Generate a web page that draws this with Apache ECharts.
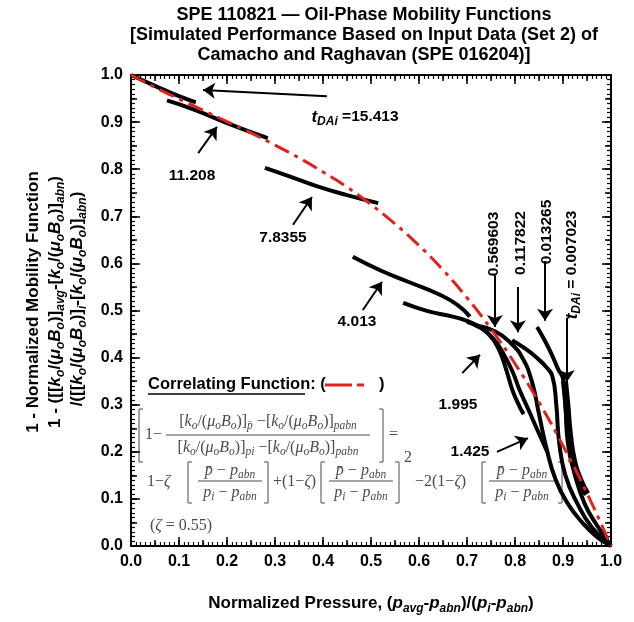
<!DOCTYPE html>
<html>
<head>
<meta charset="utf-8">
<script src="https://cdn.jsdelivr.net/npm/echarts@6/dist/echarts.min.js"></script>
<style>
html, body { margin: 0; padding: 0; background: #fff; }
#main { width: 634px; height: 622px; }
</style>
</head>
<body>
<div id="main"></div>
<script>
// correlating function
var corrX = [0, 0.05, 0.1, 0.15, 0.2, 0.25, 0.3, 0.35, 0.4, 0.45, 0.5, 0.55, 0.6, 0.65, 0.7, 0.75, 0.8, 0.85, 0.9, 0.95, 1.0];
var corrY = [1.0, 0.974, 0.949, 0.925, 0.901, 0.877, 0.851, 0.824, 0.794, 0.762, 0.725, 0.684, 0.638, 0.586, 0.527, 0.461, 0.387, 0.305, 0.213, 0.112, 0.0];

// simulated curves, one per t_DAi
var sim15413 = [[0, 1.0], [0.05, 0.977], [0.1, 0.955], [0.135, 0.942]];
var sim11208 = [[0.075, 0.946], [0.13, 0.927], [0.2, 0.898], [0.285, 0.866]];
var sim78355 = [[0.279, 0.803], [0.33, 0.785], [0.39, 0.763], [0.45, 0.745], [0.515, 0.728]];
var sim4013 = [[0.462, 0.614], [0.52, 0.585], [0.58, 0.56], [0.64, 0.535], [0.68, 0.512], [0.706, 0.487]];
var sim1995 = [[0.567, 0.516], [0.62, 0.498], [0.67, 0.487], [0.7, 0.478], [0.725, 0.466], [0.745, 0.45], [0.765, 0.42], [0.78, 0.38], [0.795, 0.33], [0.81, 0.295], [0.818, 0.28]];
var sim1425 = [[0.7, 0.476], [0.73, 0.462], [0.755, 0.44], [0.775, 0.41], [0.795, 0.37], [0.81, 0.33], [0.83, 0.285], [0.845, 0.25], [0.867, 0.2]];
var sim0569603 = [[0.72, 0.468], [0.76, 0.455], [0.79, 0.432], [0.815, 0.4], [0.835, 0.35], [0.85, 0.28], [0.865, 0.21], [0.885, 0.14], [0.91, 0.09], [0.94, 0.05], [0.97, 0.02], [1.0, 0.0]];
var sim0117822 = [[0.794, 0.437], [0.82, 0.42], [0.845, 0.4], [0.865, 0.38], [0.878, 0.36], [0.886, 0.3], [0.892, 0.22], [0.905, 0.15], [0.93, 0.09], [0.96, 0.04], [1.0, 0.0]];
var sim0013265 = [[0.846, 0.465], [0.86, 0.44], [0.875, 0.41], [0.89, 0.375], [0.9, 0.355], [0.905, 0.3], [0.91, 0.22], [0.925, 0.15], [0.945, 0.09], [0.97, 0.045], [1.0, 0.0]];
var sim0007023 = [[0.903, 0.35], [0.908, 0.3], [0.913, 0.24], [0.922, 0.18], [0.935, 0.14], [0.95, 0.11]];

// arrows pointing at the curves: [from, to]
var arrows = [
  [[0.408, 0.955], [0.15, 0.968]],
  [[0.14, 0.834], [0.179, 0.89]],
  [[0.3375, 0.682], [0.377, 0.741]],
  [[0.483, 0.501], [0.523, 0.561]],
  [[0.69, 0.367], [0.727, 0.406]],
  [[0.7625, 0.2], [0.827, 0.229]],
  [[0.758, 0.575], [0.758, 0.465]],
  [[0.806, 0.55], [0.806, 0.454]],
  [[0.8625, 0.605], [0.8625, 0.478]],
  [[0.908, 0.485], [0.908, 0.348]]
];

var tickLabels = ['0.0', '0.1', '0.2', '0.3', '0.4', '0.5', '0.6', '0.7', '0.8', '0.9', '1.0'];

var myChart = echarts.init(document.getElementById('main'));

var sans = 'Liberation Sans, Arial, sans-serif';
var serif = 'Liberation Serif, DejaVu Serif, serif';
var grey = '#4a4a4a';

function fmtTick(v) {
  return tickLabels[Math.round(v * 10)] || '';
}

// one axis with major + minor ticks, one with the 0.05 ticks
function mainAxis(pos, labels) {
  return {
    type: 'value', position: pos, min: 0, max: 1, interval: 0.1,
    axisLine: { show: true, onZero: false, lineStyle: { color: '#000', width: 2 } },
    axisTick: { show: true, inside: true, length: 9, lineStyle: { color: '#000', width: 1.5 } },
    minorTick: { show: true, splitNumber: 10, length: 4, lineStyle: { color: '#000', width: 1.2 } },
    axisLabel: { show: labels, color: '#000', fontFamily: sans, fontWeight: 'bold', fontSize: 16, margin: 8, formatter: fmtTick },
    splitLine: { show: false }
  };
}
function midAxis(pos) {
  return {
    type: 'value', position: pos, min: 0, max: 1, interval: 0.05,
    axisLine: { show: false, onZero: false },
    axisTick: { show: true, inside: true, length: 6, lineStyle: { color: '#000', width: 1.5 } },
    axisLabel: { show: false },
    splitLine: { show: false }
  };
}

function simSeries(data) {
  return {
    type: 'line', data: data, smooth: true, showSymbol: false, symbol: 'none',
    lineStyle: { color: '#000', width: 4 }, z: 2, silent: true
  };
}

var corrData = corrX.map(function (x, i) { return [x, corrY[i]]; });

var series = [
  simSeries(sim15413), simSeries(sim11208), simSeries(sim78355), simSeries(sim4013),
  simSeries(sim1995), simSeries(sim1425), simSeries(sim0569603), simSeries(sim0117822),
  simSeries(sim0013265),
  {
    type: 'line', data: sim0007023, smooth: true, showSymbol: false, symbol: 'none',
    lineStyle: { color: '#000', width: 7 }, z: 2, silent: true
  },
  {
    type: 'line', data: corrData, smooth: true, showSymbol: false, symbol: 'none',
    lineStyle: { color: '#e3211c', width: 3, type: [16, 6, 4, 6] }, z: 3, silent: true
  },
  {
    type: 'lines', coordinateSystem: 'cartesian2d', z: 4, silent: true,
    symbol: ['none', 'arrow'], symbolSize: [8, 12],
    lineStyle: { color: '#000', width: 2, opacity: 1 },
    data: arrows.map(function (a) { return { coords: a }; })
  }
];

function richSet(size, subSize, lh) {
  return {
    n: { fontFamily: sans, fontWeight: 'bold', fontSize: size, lineHeight: lh, verticalAlign: 'middle', fill: '#000' },
    i: { fontFamily: sans, fontWeight: 'bold', fontStyle: 'italic', fontSize: size, lineHeight: lh, verticalAlign: 'middle', fill: '#000' },
    s: { fontFamily: sans, fontWeight: 'bold', fontStyle: 'italic', fontSize: subSize, lineHeight: lh, verticalAlign: 'bottom', fill: '#000' }
  };
}
var axisRich = richSet(17, 12, 23);
var labelRich = richSet(15.5, 12, 22);
labelRich.i.fontSize = 17;

function boldText(x, y, text, size, rot, rich) {
  return {
    type: 'text', x: x, y: y, rotation: rot || 0, silent: true,
    style: {
      text: text, fill: '#000', font: 'bold ' + size + 'px ' + sans,
      align: 'center', verticalAlign: 'middle', rich: rich
    }
  };
}

// formula pieces
var fr = {
  n: { fontFamily: serif, fontSize: 16, lineHeight: 20, verticalAlign: 'middle', fill: grey },
  i: { fontFamily: serif, fontStyle: 'italic', fontSize: 16, lineHeight: 20, verticalAlign: 'middle', fill: grey },
  s: { fontFamily: serif, fontStyle: 'italic', fontSize: 11.5, lineHeight: 20, verticalAlign: 'bottom', fill: grey }
};
function ftext(x, y, text, align) {
  return {
    type: 'text', x: x, y: y, silent: true,
    style: { text: text, align: align || 'left', verticalAlign: 'middle', rich: fr, fill: grey, font: '16px ' + serif }
  };
}
function fline(x1, y1, x2, y2) {
  return { type: 'line', silent: true, shape: { x1: x1, y1: y1, x2: x2, y2: y2 }, style: { stroke: grey, lineWidth: 1 } };
}
function lbr(x, y1, y2) {
  return { type: 'polyline', silent: true, shape: { points: [[x + 4, y1], [x, y1], [x, y2], [x + 4, y2]] }, style: { stroke: grey, lineWidth: 1, fill: null } };
}
function rbr(x, y1, y2) {
  return { type: 'polyline', silent: true, shape: { points: [[x - 4, y1], [x, y1], [x, y2], [x - 4, y2]] }, style: { stroke: grey, lineWidth: 1, fill: null } };
}

var kmb = '{n|[}{i|k}{s|o}{n|/(}{i|μ}{s|o}{i|B}{s|o}{n|)]}';
var frac = function (cx, yBar, half) {
  return [
    ftext(cx, yBar - 10, '{i|p̄} {n|−} {i|p}{s|abn}', 'center'),
    fline(cx - half, yBar, cx + half, yBar),
    ftext(cx, yBar + 12, '{i|p}{s|i} {n|−} {i|p}{s|abn}', 'center')
  ];
};

var graphics = [
  boldText(364, 15, 'SPE 110821 — Oil-Phase Mobility Functions', 18),
  boldText(364, 35, '[Simulated Performance Based on Input Data (Set 2) of', 18),
  boldText(364, 55, 'Camacho and Raghavan (SPE 016204)]', 18),

  // y axis title, three rotated lines
  boldText(33, 302, '1 - Normalized Mobility Function', 17, Math.PI / 2),
  boldText(55, 302, '{n|1 - ([[}{i|k}{s|o}{n|/(}{i|μ}{s|o}{i|B}{s|o}{n|)]}{s|avg}{n|-[}{i|k}{s|o}{n|/(}{i|μ}{s|o}{i|B}{s|o}{n|)]}{s|abn}{n|)}', 17, Math.PI / 2, axisRich),
  boldText(77, 299, '{n|/([[}{i|k}{s|o}{n|/(}{i|μ}{s|o}{i|B}{s|o}{n|)]}{s|i}{n|-[}{i|k}{s|o}{n|/(}{i|μ}{s|o}{i|B}{s|o}{n|)]}{s|abn}{n|)}', 17, Math.PI / 2, axisRich),

  // x axis title
  boldText(371, 603, '{n|Normalized Pressure, (}{i|p}{s|avg}{n|-}{i|p}{s|abn}{n|)/(}{i|p}{s|i}{n|-}{i|p}{s|abn}{n|)}', 17, 0, axisRich),

  // curve labels
  boldText(355, 117, '{i|t}{s|DAi}{n| =15.413}', 15.5, 0, labelRich),
  boldText(192, 176, '11.208', 15.5),
  boldText(283, 238, '7.8355', 15.5),
  boldText(357, 322, '4.013', 15.5),
  boldText(458, 405, '1.995', 15.5),
  boldText(470, 452, '1.425', 15.5),
  boldText(494, 244, '0.569603', 15.5, Math.PI / 2),
  boldText(521, 243, '0.117822', 15.5, Math.PI / 2),
  boldText(547, 232, '0.013265', 15.5, Math.PI / 2),
  boldText(572, 265, '{i|t}{s|DAi}{n| = 0.007023}', 15.5, Math.PI / 2, labelRich),

  // legend of the correlating function
  {
    type: 'text', x: 148, y: 384, silent: true,
    style: { text: 'Correlating Function: (', fill: '#000', font: 'bold 16.5px ' + sans, align: 'left', verticalAlign: 'middle' }
  },
  { type: 'line', silent: true, shape: { x1: 148, y1: 394, x2: 305, y2: 394 }, style: { stroke: '#000', lineWidth: 1.3 } },
  { type: 'line', silent: true, shape: { x1: 325, y1: 385, x2: 352, y2: 385 }, style: { stroke: '#e3211c', lineWidth: 3 } },
  { type: 'line', silent: true, shape: { x1: 357, y1: 385, x2: 364, y2: 385 }, style: { stroke: '#e3211c', lineWidth: 3 } },
  {
    type: 'text', x: 379, y: 384, silent: true,
    style: { text: ')', fill: '#000', font: 'bold 16.5px ' + sans, align: 'left', verticalAlign: 'middle' }
  },

  // first line of the formula
  lbr(139, 409, 462),
  ftext(145, 435, '{n|1−}'),
  ftext(268, 422, kmb + '{s|p̄} {n|−}' + kmb + '{s|pabn}', 'center'),
  fline(166, 435, 370, 435),
  ftext(268, 448, kmb + '{s|pi} {n|−}' + kmb + '{s|pabn}', 'center'),
  rbr(383, 409, 462),
  ftext(389, 435, '{n|=}'),

  // second line
  ftext(147, 482, '{n|1−}{i|ζ}'),
  lbr(188, 462, 503),
  rbr(268, 462, 503),
  ftext(273, 482, '{n|+(1−}{i|ζ}{n|)}'),
  lbr(321, 462, 503),
  rbr(399, 462, 503),
  ftext(404, 458, '{n|2}'),
  ftext(415, 482, '{n|−2(1−}{i|ζ}{n|)}'),
  lbr(482, 462, 503),
  rbr(562, 462, 503),
  ftext(567, 458, '{n|3}'),
  ftext(150, 526, '{n|(}{i|ζ}{n| = 0.55)}')
].concat(frac(230, 481, 32), frac(361, 481, 32), frac(522, 481, 33));

var option = {
  backgroundColor: '#fff',
  animation: false,
  grid: { left: 131, right: 23, top: 75, bottom: 76, containLabel: false },
  xAxis: [mainAxis('bottom', true), midAxis('bottom'), mainAxis('top', false), midAxis('top')],
  yAxis: [mainAxis('left', true), midAxis('left'), mainAxis('right', false), midAxis('right')],
  series: series,
  graphic: graphics
};

myChart.setOption(option);
</script>
</body>
</html>
